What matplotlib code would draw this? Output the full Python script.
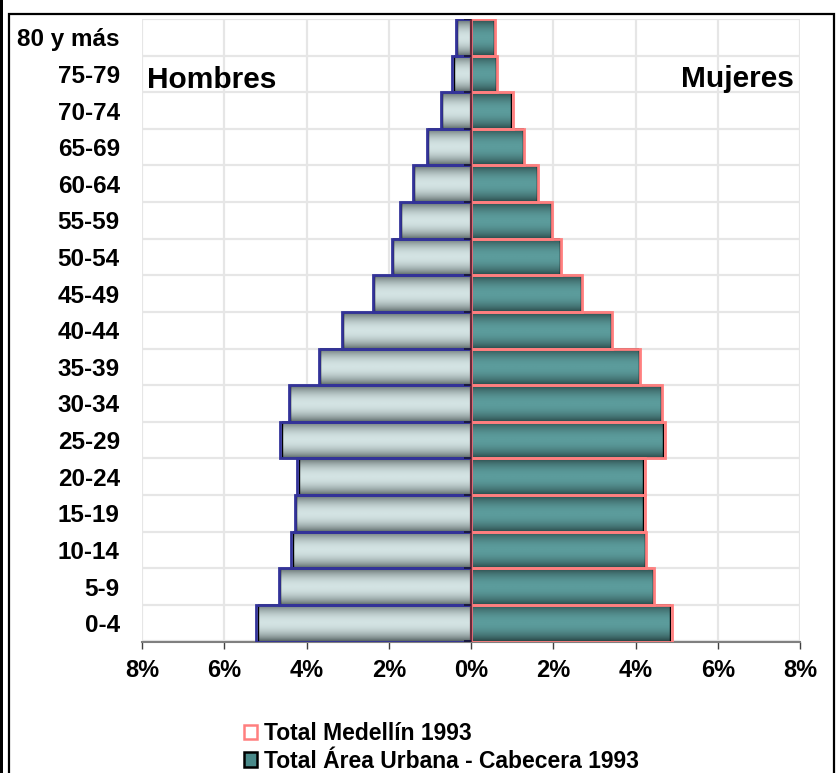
import numpy as np
import matplotlib
matplotlib.use('Agg')
import matplotlib.pyplot as plt
from matplotlib.colors import LinearSegmentedColormap
from matplotlib.patches import Rectangle, Patch

plt.rcParams['font.family'] = ['Liberation Sans', 'DejaVu Sans']
plt.rcParams['font.weight'] = 'bold'

# ---------------- data (bottom to top) ----------------
ages = ['0-4', '5-9', '10-14', '15-19', '20-24', '25-29', '30-34', '35-39',
        '40-44', '45-49', '50-54', '55-59', '60-64', '65-69', '70-74',
        '75-79', '80 y más']
men_medellin = [5.23, 4.68, 4.37, 4.29, 4.23, 4.64, 4.43, 3.70, 3.14, 2.39,
                1.93, 1.72, 1.41, 1.08, 0.74, 0.45, 0.37]
men_cabecera = [5.19, 4.64, 4.33, 4.25, 4.19, 4.60, 4.39, 3.67, 3.11, 2.36,
                1.90, 1.69, 1.38, 1.05, 0.71, 0.42, 0.34]
women_medellin = [4.88, 4.46, 4.25, 4.22, 4.23, 4.71, 4.65, 4.11, 3.44, 2.70,
                  2.19, 1.98, 1.63, 1.30, 1.01, 0.64, 0.58]
women_cabecera = [4.85, 4.42, 4.22, 4.18, 4.19, 4.68, 4.62, 4.08, 3.41, 2.67,
                  2.16, 1.95, 1.60, 1.27, 0.98, 0.61, 0.55]
xticks = [-8, -6, -4, -2, 0, 2, 4, 6, 8]
xtick_labels = ['8%', '6%', '4%', '2%', '0%', '2%', '4%', '6%', '8%']
series_names = ['Total Medellín 1993', 'Total Área Urbana - Cabecera 1993']

W, H = 838, 773
fig = plt.figure(figsize=(W / 100, H / 100), dpi=100)
ax = fig.add_axes([142 / W, 1 - 641.5 / H, (800 - 142) / W, (641.5 - 19) / H])

y = np.arange(len(ages))

s = np.linspace(0, 1, 80)
prof = np.sin(np.pi * s) ** 0.75
arr = prof[:, None]
cm_m = LinearSegmentedColormap.from_list('m', ['#566262', '#d3e3e3'])
cm_w = LinearSegmentedColormap.from_list('w', ['#284444', '#5c9c9c'])

bm = ax.barh(y, -np.array(men_cabecera), height=1.0, facecolor='none',
             edgecolor='black', lw=1.0, zorder=3)
bw = ax.barh(y, np.array(women_cabecera), height=1.0, facecolor='none',
             edgecolor='black', lw=1.0, zorder=3)
for bars, cm in ((bm, cm_m), (bw, cm_w)):
    for p in bars:
        x0 = p.get_x()
        x1 = x0 + p.get_width()
        ax.imshow(arr, extent=[min(x0, x1), max(x0, x1), p.get_y(), p.get_y() + p.get_height()],
                  cmap=cm, vmin=0, vmax=1, aspect='auto', zorder=2,
                  interpolation='bilinear')

ax.barh(y, -np.array(men_medellin), height=1.0, fill=False,
        edgecolor='#333399', lw=2.0, zorder=4)
ax.barh(y, np.array(women_medellin), height=1.0, fill=False,
        edgecolor='#ff7f7f', lw=2.0, zorder=4)

ax.axvline(0, color='#6a2a3a', lw=1.6, zorder=5)
ax.hlines(np.arange(-0.5, len(ages)), -0.17, 0, colors='#1a1a40', lw=1.4, zorder=6)

ax.set_xlim(-8, 8)
ax.set_ylim(-0.5, len(ages) - 0.5)
ax.set_xticks(xticks)
ax.set_xticklabels(xtick_labels, fontsize=17, fontweight='bold')
ax.set_yticks(y)
ax.set_yticklabels(ages, fontsize=17.5, fontweight='bold')
ax.set_yticks(np.arange(-0.5, len(ages)), minor=True)
ax.set_axisbelow(True)
ax.grid(axis='x', color='#e6e6e6', lw=1.6, zorder=0)
ax.grid(axis='y', which='minor', color='#e6e6e6', lw=1.6, zorder=0)
ax.tick_params(axis='y', which='both', length=0, pad=16)
ax.tick_params(axis='x', length=5, width=1, color='#404040', pad=7.5)
for sp in ('top', 'right', 'left'):
    ax.spines[sp].set_visible(False)
ax.spines['bottom'].set_color('#808080')
ax.spines['bottom'].set_linewidth(1.5)

ax.text(5 / 658, (641.5 - 88) / 622.5, 'Hombres', transform=ax.transAxes,
        fontsize=21.5, fontweight='bold', ha='left', va='baseline', zorder=7)
ax.text((794 - 142) / 658, (641.5 - 87) / 622.5, 'Mujeres', transform=ax.transAxes,
        fontsize=21.5, fontweight='bold', ha='right', va='baseline', zorder=7)

handles = [Patch(facecolor='white', edgecolor='#ff7f7f', lw=1.8),
           Patch(facecolor='#4a8a8a', edgecolor='black', lw=1.8)]
fig.legend(handles, series_names, loc='upper left',
           bbox_to_anchor=(244 / W, 1 - 722 / H), frameon=False,
           prop={'size': 16.5, 'weight': 'bold'}, handlelength=0.57,
           handleheight=0.57, handletextpad=0.3, labelspacing=0.2,
           borderpad=0, borderaxespad=0)

# outer frame
fig.add_artist(Rectangle((9 / W, -0.02), (834 - 9) / W, (773 - 14) / H + 0.02,
                         transform=fig.transFigure, fill=False,
                         edgecolor='black', lw=1.6))
fig.add_artist(Rectangle((0, 0), 3 / W, 1, transform=fig.transFigure,
                         facecolor='black', edgecolor='none'))

fig.savefig('out.png', dpi=100)
